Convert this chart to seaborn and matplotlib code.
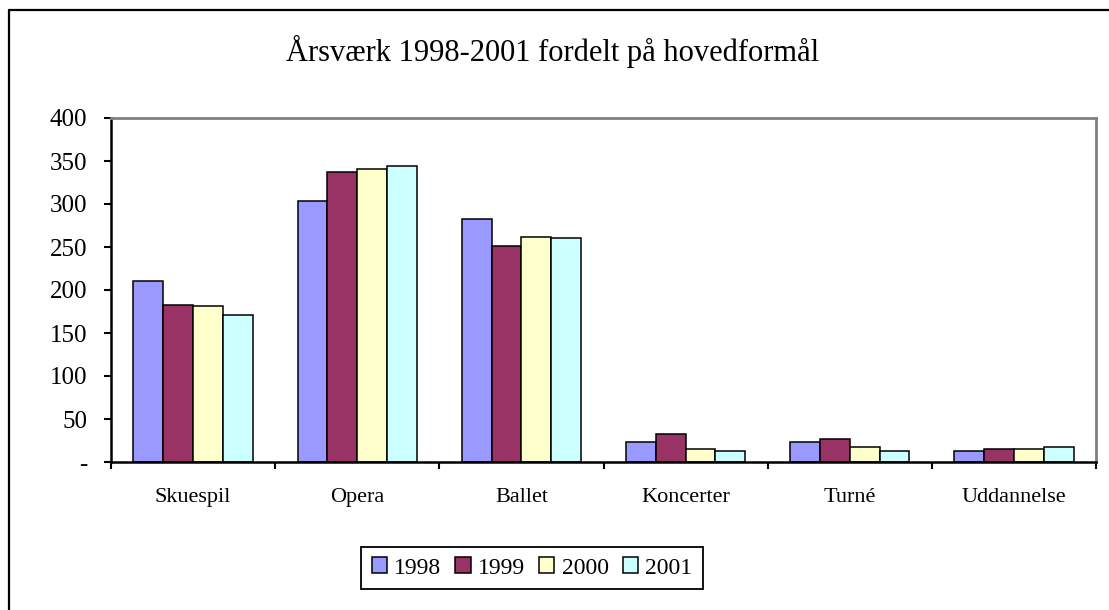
import pandas as pd
import seaborn as sns
import matplotlib.pyplot as plt
from matplotlib.lines import Line2D

categories = ['Skuespil', 'Opera', 'Ballet', 'Koncerter', 'Turné', 'Uddannelse']
years = ['1998', '1999', '2000', '2001']
v1998 = [211, 304, 283, 23, 23, 13]
v1999 = [183, 337, 251, 32, 27, 15]
v2000 = [181, 341, 262, 15, 17, 15]
v2001 = [171, 344, 260, 13, 13, 17]
yticks = [0, 50, 100, 150, 200, 250, 300, 350, 400]
ytick_labels = ['-', '50', '100', '150', '200', '250', '300', '350', '400']
colors = {'1998': '#9999FF', '1999': '#993366', '2000': '#FFFFCC', '2001': '#CCFFFF'}

rows = []
for year, vals in zip(years, [v1998, v1999, v2000, v2001]):
    for cat, v in zip(categories, vals):
        rows.append({'kategori': cat, 'aar': year, 'aarsvaerk': v})
df = pd.DataFrame(rows)

sns.set_style('white')
plt.rcParams['font.family'] = ['Liberation Serif', 'DejaVu Serif']
plt.rcParams['text.color'] = 'black'
plt.rcParams['xtick.color'] = 'black'
plt.rcParams['ytick.color'] = 'black'

fig = plt.figure(figsize=(11.09, 6.10), dpi=100)
ax = fig.add_axes([111 / 1109, 148 / 610, 985 / 1109, 344 / 610])

sns.barplot(data=df, x='kategori', y='aarsvaerk', hue='aar', order=categories,
            hue_order=years, palette=colors, saturation=1, width=0.727,
            edgecolor='black', linewidth=1.1, ax=ax, legend=True)

ax.set_xlim(-0.5, len(categories) - 0.5)
ax.set_ylim(0, 400)
ax.set_yticks(yticks)
ax.set_yticklabels(ytick_labels)
ax.set_xlabel('')
ax.set_ylabel('')

# ticks between the categories, labels centred
ax.set_xticks([i - 0.5 for i in range(len(categories) + 1)], minor=True)
ax.tick_params(axis='x', which='major', length=0, pad=19, labelsize=16, labelcolor='black')
ax.tick_params(axis='x', which='minor', length=5, width=1.5, direction='out', color='black', bottom=True)
ax.tick_params(axis='y', which='major', length=5, width=1.5, direction='out', color='black', left=True,
               pad=12, labelsize=18, labelcolor='black')

for side in ['left', 'bottom']:
    ax.spines[side].set_color('black')
    ax.spines[side].set_linewidth(1.8)
for side in ['top', 'right']:
    ax.spines[side].set_color('#808080')
    ax.spines[side].set_linewidth(2)
    ax.spines[side].set_visible(True)

handles, labels = ax.get_legend_handles_labels()
ax.get_legend().remove()
leg = fig.legend(handles, labels, loc='center', bbox_to_anchor=(532 / 1109, 1 - 568 / 610), ncol=4,
                 fontsize=17, frameon=True, fancybox=False, framealpha=1, edgecolor='black',
                 handlelength=0.65, handleheight=0.65, handletextpad=0.3, columnspacing=0.6,
                 borderpad=0.45)
leg.get_frame().set_linewidth(1.3)

fig.text(553 / 1109, 1 - 51 / 610, 'Årsværk 1998-2001 fordelt på hovedformål', ha='center', va='center',
         fontsize=22, color='black')

# chart area border (left and top visible)
fig.add_artist(Line2D([9 / 1109, 9 / 1109], [0, 1 - 10 / 610], transform=fig.transFigure, color='black', lw=1.6))
fig.add_artist(Line2D([9 / 1109, 1], [1 - 10 / 610, 1 - 10 / 610], transform=fig.transFigure, color='black', lw=1.6))

fig.savefig('out.png', dpi=100)
